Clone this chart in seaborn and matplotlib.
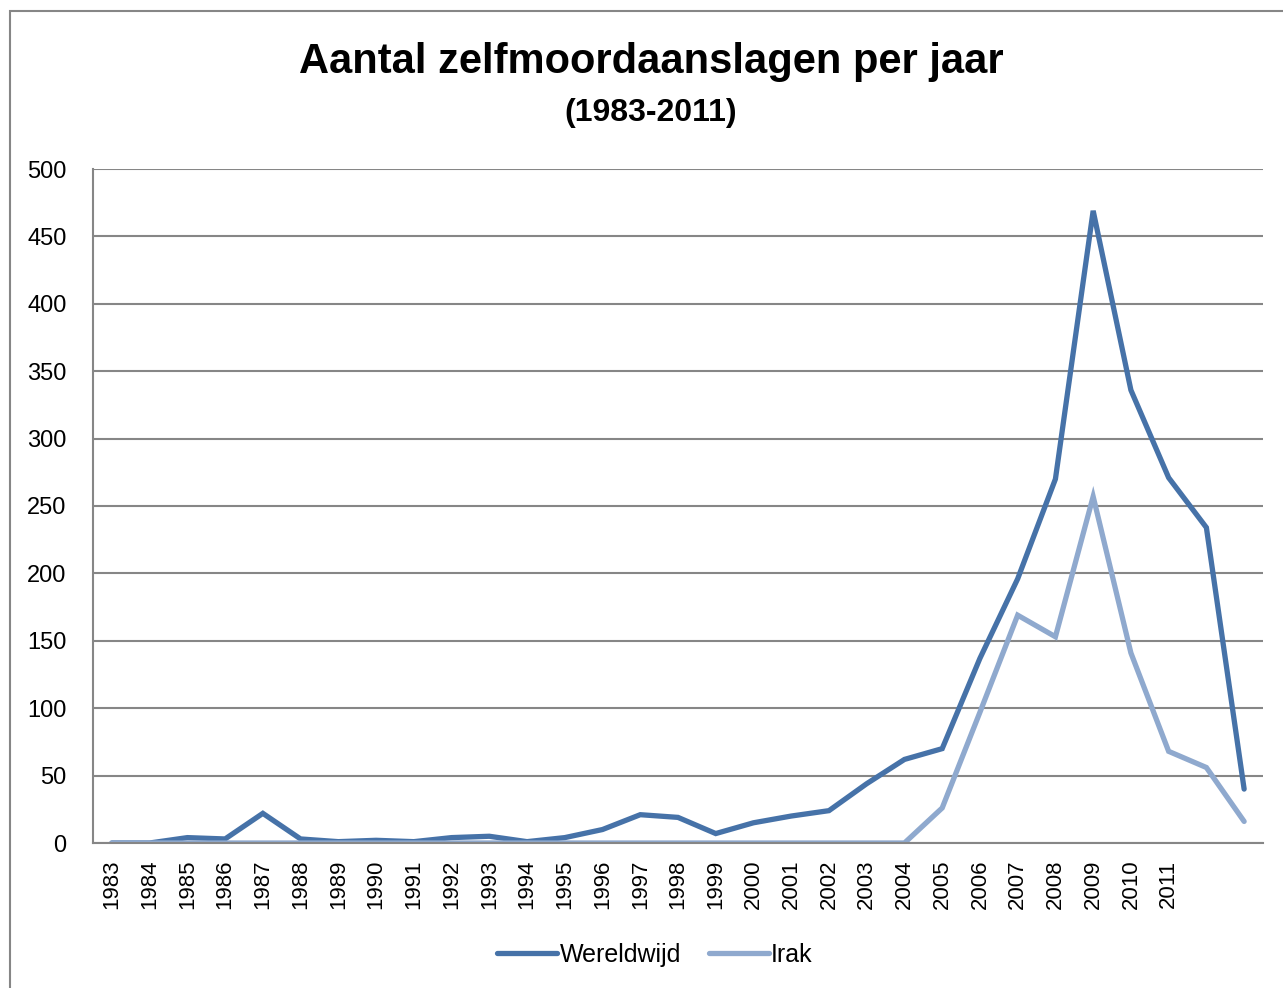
import numpy as np
import pandas as pd
import matplotlib
matplotlib.use("Agg")
import matplotlib.pyplot as plt
import seaborn as sns
from matplotlib.patches import Rectangle

# tick labels on the category axis (the last two points have no label)
year_labels = [str(y) for y in range(1983, 2012)]

wereldwijd = [0, 0, 4, 3, 22, 3, 1, 2, 1, 4, 5, 1, 4, 10, 21, 19, 7, 15, 20, 24,
              44, 62, 70, 137, 196, 270, 469, 336, 271, 234, 40]
irak = [0, 0, 0, 0, 0, 0, 0, 0, 0, 0, 0, 0, 0, 0, 0, 0, 0, 0, 0, 0,
        0, 0, 26, 97, 169, 153, 257, 141, 68, 56, 16]

series_names = ["Wereldwijd", "Irak"]
colors = ["#4672A8", "#8FA9CE"]

idx = np.arange(len(wereldwijd))
df = pd.DataFrame({
    "pos": np.concatenate([idx, idx]),
    "aantal": wereldwijd + irak,
    "reeks": [series_names[0]] * len(wereldwijd) + [series_names[1]] * len(irak),
})

sns.set_style("white")
plt.rcParams["font.family"] = ["Liberation Sans", "DejaVu Sans"]
plt.rcParams["text.color"] = "black"
plt.rcParams["xtick.color"] = "black"
plt.rcParams["ytick.color"] = "black"

fig = plt.figure(figsize=(12.83, 9.88), dpi=100)
ax = fig.add_axes([93 / 1283, 1 - 843 / 988, (1263 - 93) / 1283, 674 / 988])

sns.lineplot(data=df, x="pos", y="aantal", hue="reeks", palette=colors,
             hue_order=series_names, linewidth=3.8, ax=ax, legend=True,
             solid_capstyle="round", solid_joinstyle="miter")

ax.set_xlim(-0.5, len(wereldwijd) - 0.5)
ax.set_ylim(0, 500)
ax.set_yticks(range(0, 501, 50))
ax.set_xticks(range(len(year_labels)))
ax.set_xticklabels(year_labels, rotation=90, fontsize=16)
ax.tick_params(axis="y", labelsize=17, length=0, pad=19)
ax.tick_params(axis="x", length=0, pad=12)
ax.set_xlabel("")
ax.set_ylabel("")

ax.grid(axis="y", color="#868686", linewidth=1.5)
ax.set_axisbelow(True)
for side in ["top", "right"]:
    ax.spines[side].set_visible(False)
for side in ["left", "bottom"]:
    ax.spines[side].set_color("#868686")
    ax.spines[side].set_linewidth(1.5)

leg = ax.legend(loc="center", bbox_to_anchor=(655 / 1283, 1 - 955 / 988),
                bbox_transform=fig.transFigure, ncol=2, frameon=False,
                fontsize=18, handlelength=2.4, handletextpad=0.1,
                columnspacing=1.1)
for line in leg.get_lines():
    line.set_linewidth(3.8)

fig.text(651 / 1283, 1 - 62 / 988, "Aantal zelfmoordaanslagen per jaar",
         ha="center", va="center", fontsize=30, fontweight="bold")
fig.text(651 / 1283, 1 - 113 / 988, "(1983-2011)",
         ha="center", va="center", fontsize=23, fontweight="bold")

# outer chart border
fig.add_artist(Rectangle((10 / 1283, -0.05), 1.2, 1.05 - 11 / 988,
                         transform=fig.transFigure, fill=False,
                         edgecolor="#868686", linewidth=1.5))

fig.savefig("out.png", dpi=100)
